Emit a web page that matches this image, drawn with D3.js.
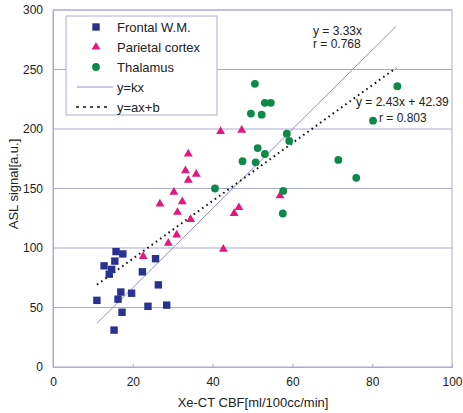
<!DOCTYPE html>
<html lang="en">
<meta charset="utf-8">
<script src="https://d3js.org/d3.v7.min.js"></script>
<style>
  body { margin: 0; background: #fff; }
  text { font-family: "Liberation Sans", Arial, sans-serif; fill: #222; }
</style>
<svg id="base" width="463" height="413"></svg>

<script>
    // data: [Xe-CT CBF, ASL signal]
    var frontal = [[15.8, 97], [17.5, 95], [15.5, 89], [12.8, 85], [14.7, 82], [14.1, 78],
        [22.4, 80], [25.7, 91], [26.4, 69], [17.0, 63], [19.7, 62], [11.0, 56], [16.3, 57],
        [17.3, 46], [23.8, 51], [28.5, 52], [15.3, 31]];
    var parietal = [[33.9, 179], [33.2, 165], [35.9, 162], [33.9, 157], [30.3, 147], [26.8, 137],
        [32.4, 139], [31.2, 130], [34.5, 124], [31.0, 111], [28.9, 104], [22.6, 93], [42.0, 198],
        [47.3, 199], [56.9, 144], [46.6, 134], [45.4, 129], [42.7, 99]];
    var thalamus = [[50.6, 238], [53.1, 222], [54.6, 222], [49.6, 213], [52.3, 212], [58.6, 196],
        [59.2, 190], [51.3, 184], [53.1, 179], [47.5, 173], [50.8, 172], [40.6, 150], [57.7, 148],
        [57.6, 129], [86.3, 236], [80.2, 207], [71.5, 174], [76.0, 159]];
    var xTicks = [0, 20, 40, 60, 80, 100];
    var yTicks = [0, 50, 100, 150, 200, 250, 300];
    var fitRange = [11, 86];
    var k = 3.33, a = 2.43, b = 42.39;

    var svg = d3.select("#base");
    var mLeft = 53, mRight = 452, mTop = 10, mBottom = 367;

    var x = d3.scaleLinear().domain([0, 100]).range([mLeft, mRight]);
    var y = d3.scaleLinear().domain([0, 300]).range([mBottom, mTop]);

    var frameCol = "#a9acd0";

    // gridlines
    svg.append("g").selectAll("line")
        .data(yTicks.slice(1))
        .enter().append("line")
        .attr("x1", mLeft).attr("x2", mRight)
        .attr("y1", function (d) { return y(d); })
        .attr("y2", function (d) { return y(d); })
        .attr("stroke", frameCol).attr("stroke-width", 1);

    svg.append("rect")
        .attr("x", mLeft).attr("y", mTop)
        .attr("width", mRight - mLeft).attr("height", mBottom - mTop)
        .attr("fill", "none").attr("stroke", frameCol);

    // axes
    var xAxis = svg.append("g")
        .attr("transform", "translate(0," + mBottom + ")")
        .call(d3.axisBottom(x).tickValues(xTicks).tickSize(-3).tickPadding(10));
    var yAxis = svg.append("g")
        .attr("transform", "translate(" + mLeft + ",0)")
        .call(d3.axisLeft(y).tickValues(yTicks).tickSize(0).tickPadding(10));
    [xAxis, yAxis].forEach(function (g) {
        g.select(".domain").attr("stroke", frameCol);
        g.selectAll(".tick line").attr("stroke", frameCol);
        g.selectAll("text").style("font-size", "12px").attr("fill", "#222")
            .style("font-family", "'Liberation Sans', Arial, sans-serif");
    });

    svg.append("text")
        .attr("x", 253).attr("y", 407)
        .attr("text-anchor", "middle")
        .style("font-size", "13px")
        .text("Xe-CT CBF[ml/100cc/min]");

    svg.append("text")
        .attr("transform", "translate(18,184) rotate(-90)")
        .attr("text-anchor", "middle")
        .style("font-size", "13px")
        .text("ASL signal[a.u.]");

    // fitted lines
    svg.append("line")
        .attr("x1", x(fitRange[0])).attr("y1", y(k * fitRange[0]))
        .attr("x2", x(fitRange[1])).attr("y2", y(k * fitRange[1]))
        .attr("stroke", "#8d90cc").attr("stroke-width", 1);

    svg.append("line")
        .attr("x1", x(fitRange[0])).attr("y1", y(a * fitRange[0] + b))
        .attr("x2", x(fitRange[1])).attr("y2", y(a * fitRange[1] + b))
        .attr("stroke", "#111").attr("stroke-width", 2)
        .attr("stroke-dasharray", "1.6,3.6");

    // markers
    var blue = "#2b3191", pink = "#e3177d", green = "#0d8a4a";
    var sq = 7.4;

    svg.append("g").selectAll("rect")
        .data(frontal).enter().append("rect")
        .attr("x", function (d) { return x(d[0]) - sq / 2; })
        .attr("y", function (d) { return y(d[1]) - sq / 2; })
        .attr("width", sq).attr("height", sq)
        .attr("fill", blue);

    var tri = d3.symbol().type(d3.symbolTriangle).size(34);
    svg.append("g").selectAll("path")
        .data(parietal).enter().append("path")
        .attr("d", tri)
        .attr("transform", function (d) { return "translate(" + x(d[0]) + "," + y(d[1]) + ")"; })
        .attr("fill", pink);

    svg.append("g").selectAll("circle")
        .data(thalamus).enter().append("circle")
        .attr("cx", function (d) { return x(d[0]); })
        .attr("cy", function (d) { return y(d[1]); })
        .attr("r", 3.9)
        .attr("fill", green);

    // annotations
    svg.append("text").attr("x", 313).attr("y", 35).style("font-size", "12px").text("y = 3.33x");
    svg.append("text").attr("x", 313).attr("y", 48).style("font-size", "12px").text("r = 0.768");
    svg.append("text").attr("x", 356).attr("y", 106).style("font-size", "12px").text("y = 2.43x + 42.39");
    svg.append("text").attr("x", 379).attr("y", 122).style("font-size", "12px").text("r = 0.803");

    // legend
    var lg = svg.append("g");
    lg.append("rect")
        .attr("x", 66).attr("y", 16).attr("width", 151).attr("height", 99)
        .attr("fill", "#fff").attr("stroke", frameCol);

    var names = ["Frontal W.M.", "Parietal cortex", "Thalamus", "y=kx", "y=ax+b"];
    var rowY = [27, 47, 67, 87, 107];
    names.forEach(function (n, i) {
        lg.append("text").attr("x", 117).attr("y", rowY[i] + 4.5)
            .style("font-size", "13px").text(n);
    });
    lg.append("rect").attr("x", 96 - sq / 2).attr("y", rowY[0] - sq / 2)
        .attr("width", sq).attr("height", sq).attr("fill", blue);
    lg.append("path").attr("d", tri)
        .attr("transform", "translate(96," + rowY[1] + ")").attr("fill", pink);
    lg.append("circle").attr("cx", 96).attr("cy", rowY[2]).attr("r", 3.9).attr("fill", green);
    lg.append("line").attr("x1", 77).attr("x2", 113)
        .attr("y1", rowY[3]).attr("y2", rowY[3])
        .attr("stroke", "#8d90cc");
    lg.append("line").attr("x1", 76).attr("x2", 111)
        .attr("y1", rowY[4]).attr("y2", rowY[4])
        .attr("stroke", "#111").attr("stroke-width", 1.5)
        .attr("stroke-dasharray", "3,4");
</script>
</html>
